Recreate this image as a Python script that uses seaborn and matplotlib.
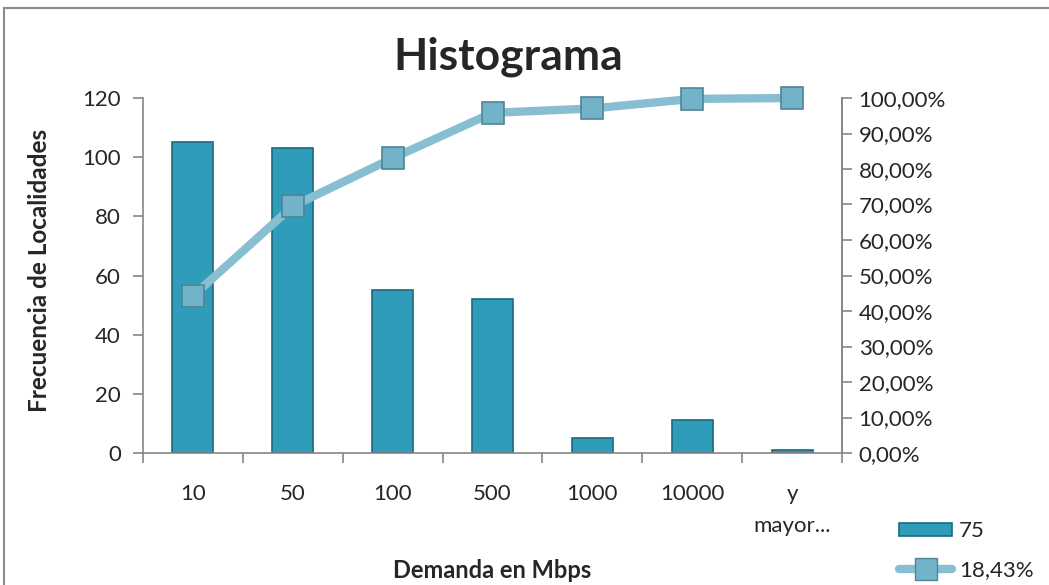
import matplotlib
matplotlib.use("Agg")
import matplotlib.pyplot as plt
import seaborn as sns
import numpy as np
import pandas as pd
from matplotlib.patches import Rectangle, Patch
from matplotlib.lines import Line2D
from matplotlib.ticker import FuncFormatter, FixedLocator

categories = ["10", "50", "100", "500", "1000", "10000", "y\nmayor..."]
frecuencia = [105, 103, 55, 52, 5, 11, 1]
acumulado = [44.23, 69.53, 83.05, 95.82, 97.05, 99.75, 100.00]
bar_label = "75"
line_label = "18,43%"

sns.set_theme(style="white")
plt.rcParams["font.family"] = ["Lato", "DejaVu Sans"]

fig = plt.figure(figsize=(10.49, 5.85), dpi=100)
ax = fig.add_axes([143/1049, 1-453/585, (842-143)/1049, (453-98)/585])

df = pd.DataFrame({"cat": categories, "freq": frecuencia, "cum": acumulado})
bar_color = "#2F9CBA"
edge_color = "#1C6A80"
sns.barplot(data=df, x="cat", y="freq", color=bar_color, width=0.41,
            edgecolor=edge_color, linewidth=1.2, saturation=1, ax=ax)
ax.set_ylim(0, 120)
ax.set_xlim(-0.5, len(categories)-0.5)
ax.set_yticks(np.arange(0, 121, 20))
ax.set_xlabel("")
ax.set_ylabel("")

ax.spines["top"].set_visible(False)
for s in ["left", "bottom", "right"]:
    ax.spines[s].set_color("#868686")
    ax.spines[s].set_linewidth(1.2)

ax.tick_params(axis="y", which="major", direction="out", length=7, width=1.2,
               color="#868686", labelsize=16, pad=9, left=True)
ax.tick_params(axis="x", which="major", length=0, labelsize=16, pad=22)
ax.xaxis.set_minor_locator(FixedLocator(np.arange(-0.5, len(categories), 1.0)))
ax.tick_params(axis="x", which="minor", direction="out", length=7, width=1.2,
               color="#868686", bottom=True)
for lbl in ax.get_xticklabels():
    lbl.set_linespacing(1.75)
    lbl.set_verticalalignment("top")

ax2 = ax.twinx()
line_color = "#88BED2"
sns.lineplot(data=df, x="cat", y="cum", ax=ax2, color=line_color, linewidth=6,
             marker="s", markersize=16, markerfacecolor="#72B3CA",
             markeredgecolor="#4F8597", markeredgewidth=1.2, sort=False)
for ln in ax2.lines:
    ln.set_clip_on(False)
ax2.set_ylim(0, 100)
ax2.set_yticks(np.arange(0, 101, 10))
ax2.yaxis.set_major_formatter(FuncFormatter(lambda v, p: f"{v:.2f}".replace(".", ",") + "%"))
ax2.set_ylabel("")
ax2.set_xlabel("")
ax2.tick_params(axis="y", direction="out", length=7, width=1.2, color="#868686",
                labelsize=16, pad=5, right=True)
for s in ["top", "left", "bottom"]:
    ax2.spines[s].set_visible(False)
ax2.spines["right"].set_color("#868686")
ax2.spines["right"].set_linewidth(1.2)

fig.text(508/1049, 1-57/585, "Histograma", ha="center", va="center",
         fontsize=32, fontweight="bold")
fig.text(492/1049, 1-571/585, "Demanda en Mbps", ha="center", va="center",
         fontsize=17, fontweight="bold")
fig.text(40/1049, 1-270/585, "Frecuencia de Localidades", ha="center", va="center",
         rotation=90, fontsize=17.5, fontweight="bold")

handles = [Patch(facecolor=bar_color, edgecolor=edge_color, linewidth=1.2),
           Line2D([0], [0], color=line_color, linewidth=6, marker="s", markersize=16,
                  markerfacecolor="#72B3CA", markeredgecolor="#4F8597")]
fig.legend(handles, [bar_label, line_label], loc="upper left",
           bbox_to_anchor=(888/1049, 1-510/585), frameon=False, fontsize=16,
           handlelength=2.4, handleheight=0.5, labelspacing=0.85, handletextpad=0.3,
           borderpad=0)

fig.patches.append(Rectangle((4/1049, -0.05), 1.1, 1-8/585+0.05, transform=fig.transFigure,
                             fill=False, edgecolor="#8C8C8C", linewidth=1.5))

fig.savefig("out.png", dpi=100)
